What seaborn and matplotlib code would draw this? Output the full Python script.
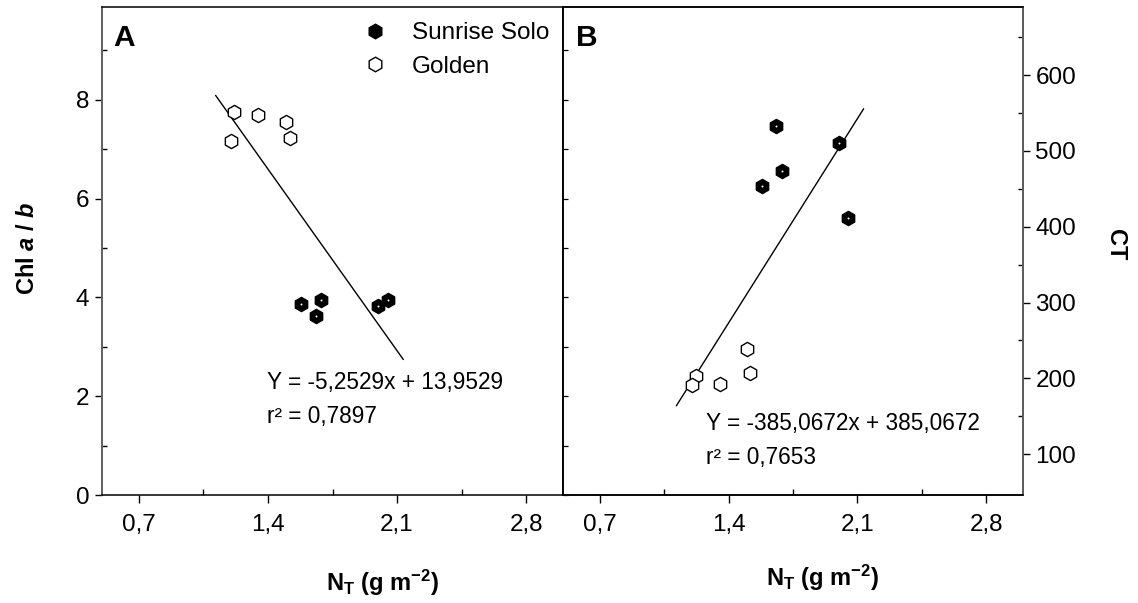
import numpy as np
import pandas as pd
import matplotlib
matplotlib.use("Agg")
import matplotlib.pyplot as plt
from matplotlib.lines import Line2D
from matplotlib.ticker import FixedLocator
import seaborn as sns

# ---------------- data ----------------
cultivars = ["Sunrise Solo", "Golden"]
# Panel A: N_T vs Chl a/b
sunrise_nt_a = [1.577, 1.688, 1.660, 1.995, 2.050]
sunrise_chl = [3.87, 3.94, 3.63, 3.83, 3.95]
golden_nt_a = [1.216, 1.346, 1.498, 1.197, 1.518]
golden_chl = [7.75, 7.69, 7.56, 7.17, 7.22]
# Panel B: N_T vs CT
sunrise_nt_b = [1.660, 2.000, 1.691, 1.579, 2.051]
sunrise_ct = [533, 511, 473, 454, 412]
golden_nt_b = [1.499, 1.518, 1.221, 1.351, 1.203]
golden_ct = [239, 207, 203, 192, 191]
# regression lines
fit_x = [1.116, 2.134]
fit_a = (-5.2529, 13.9529)
fit_b = (385.0672, -266.0)
eq_a = ["Y = -5,2529x + 13,9529", "r\u00b2 = 0,7897"]
eq_b = ["Y = -385,0672x + 385,0672", "r\u00b2 = 0,7653"]

x_ticks = [0.7, 1.4, 2.1, 2.8]
x_labels = ["0,7", "1,4", "2,1", "2,8"]
x_minor = [1.05, 1.75, 2.45]
ya_ticks = [0, 2, 4, 6, 8]
ya_minor = [1, 3, 5, 7, 9]
ct_ticks = [100, 200, 300, 400, 500, 600]
ct_minor = [150, 250, 350, 450, 550, 650]

dfA = pd.DataFrame({
    "nt": sunrise_nt_a + golden_nt_a,
    "val": sunrise_chl + golden_chl,
    "cv": [cultivars[0]] * 5 + [cultivars[1]] * 5,
})
dfB = pd.DataFrame({
    "nt": sunrise_nt_b + golden_nt_b,
    "val": sunrise_ct + golden_ct,
    "cv": [cultivars[0]] * 5 + [cultivars[1]] * 5,
})

# ---------------- style ----------------
sns.set_style("ticks")
plt.rcParams["font.family"] = ["Liberation Sans", "DejaVu Sans"]
plt.rcParams["mathtext.fontset"] = "custom"
plt.rcParams["mathtext.rm"] = "Liberation Sans:bold"
plt.rcParams["mathtext.bf"] = "Liberation Sans:bold"
plt.rcParams["mathtext.it"] = "Liberation Sans:italic:bold"
for k in ["text.color", "axes.labelcolor", "xtick.color", "ytick.color",
          "axes.edgecolor"]:
    plt.rcParams[k] = "black"

W, H = 1138, 603
fig = plt.figure(figsize=(W / 100, H / 100), dpi=100)

def fx(px):
    return px / W

def fy(py):
    return 1 - py / H

axA = fig.add_axes([fx(102), fy(495), fx(563) - fx(102), fy(7) - fy(495)])
axB = fig.add_axes([fx(563), fy(495), fx(1023) - fx(563), fy(7) - fy(495)])
axBt = axB.twinx()

TICK_FS = 17.5
MS = 105

def draw(ax, df):
    s = df[df.cv == cultivars[0]]
    g = df[df.cv == cultivars[1]]
    sns.scatterplot(data=s, x="nt", y="val", ax=ax, marker="h", s=MS,
                    color="black", edgecolor="black", linewidth=1.0, zorder=3,
                    legend=False)
    sns.scatterplot(data=s, x="nt", y="val", ax=ax, marker="o", s=2,
                    color="white", linewidth=0, zorder=4, legend=False)
    sns.scatterplot(data=g, x="nt", y="val", ax=ax, marker="h", s=MS,
                    facecolor="white", edgecolor="black", linewidth=1.0,
                    zorder=3, legend=False)

# Panel A
draw(axA, dfA)
fxa = np.array(fit_x)
sns.lineplot(x=fxa, y=fit_a[0] * fxa + fit_a[1], ax=axA, color="black",
             linewidth=1.0, zorder=2)
axA.set_xlim(0.5, 3.0)
axA.set_ylim(0, 9.88)
axA.yaxis.set_major_locator(FixedLocator(ya_ticks))
axA.yaxis.set_minor_locator(FixedLocator(ya_minor))
axA.set_yticklabels([str(v) for v in ya_ticks])
axA.tick_params(axis="y", which="both", left=True, right=False)

# Panel B
draw(axBt, dfB)
sns.lineplot(x=fxa, y=fit_b[0] * fxa + fit_b[1], ax=axBt, color="black",
             linewidth=1.0, zorder=2)
axB.set_xlim(0.5, 3.0)
axBt.set_xlim(0.5, 3.0)
axB.set_ylim(0, 9.88)
axBt.set_ylim(46, 690)
axB.yaxis.set_major_locator(FixedLocator(ya_ticks))
axB.yaxis.set_minor_locator(FixedLocator(ya_minor))
axB.tick_params(axis="y", which="both", left=True, right=False,
                labelleft=False, direction="in", length=3.5, width=0.9)
axBt.yaxis.set_major_locator(FixedLocator(ct_ticks))
axBt.yaxis.set_minor_locator(FixedLocator(ct_minor))
axBt.set_yticklabels([str(v) for v in ct_ticks])
axBt.tick_params(axis="y", which="major", right=True, direction="out",
                 length=5, width=1.0, labelsize=TICK_FS, pad=4)
axBt.tick_params(axis="y", which="minor", right=True, direction="in",
                 length=3.5, width=1.0)

for ax in (axA, axB):
    ax.xaxis.set_major_locator(FixedLocator(x_ticks))
    ax.xaxis.set_minor_locator(FixedLocator(x_minor))
    ax.set_xticklabels(x_labels)
    ax.tick_params(axis="x", which="major", direction="out", length=6,
                   width=1.0, labelsize=TICK_FS, pad=8, top=False)
    ax.tick_params(axis="x", which="minor", direction="in", length=4,
                   width=1.0, top=False)
    ax.set_xlabel("")
    ax.set_ylabel("")
axBt.set_xlabel("")
axBt.set_ylabel("")
axA.tick_params(axis="y", which="major", direction="out", length=5,
                width=1.0, labelsize=TICK_FS, pad=4)
axA.tick_params(axis="y", which="minor", direction="in", length=3.5, width=1.0)

for ax in (axA, axB, axBt):
    for sp in ax.spines.values():
        sp.set_visible(True)
        sp.set_color("black")
        sp.set_linewidth(1.1)
axA.spines["left"].set_color("#606060")
axA.spines["left"].set_linewidth(1.4)
axBt.spines["right"].set_color("#606060")
axBt.spines["right"].set_linewidth(1.4)

# equations
EQ_FS = 16.3
axA.text(1.393, 2.27, eq_a[0], fontsize=EQ_FS, va="center", ha="left")
axA.text(1.393, 1.58, eq_a[1], fontsize=EQ_FS, va="center", ha="left")
axBt.text(1.275, 139.7, eq_b[0], fontsize=EQ_FS, va="center", ha="left")
axBt.text(1.275, 96.1, eq_b[1], fontsize=EQ_FS, va="center", ha="left")

# panel letters
fig.text(fx(113), fy(38), "A", fontsize=21.5, fontweight="bold", va="center", ha="left")
fig.text(fx(576), fy(38), "B", fontsize=21.5, fontweight="bold", va="center", ha="left")

# legend
handles = [
    Line2D([], [], marker="h", linestyle="none", markersize=10.5,
           markerfacecolor="black", markeredgecolor="black"),
    Line2D([], [], marker="h", linestyle="none", markersize=10.5,
           markerfacecolor="white", markeredgecolor="black"),
]
leg = axA.legend(handles, cultivars, loc="upper left",
                 bbox_to_anchor=((363 - 102) / 461, (495 - 22) / 488),
                 frameon=False, fontsize=17.5, handlelength=1.0,
                 handletextpad=1.0, labelspacing=0.48, borderpad=0,
                 borderaxespad=0)

# axis labels
fig.text(fx(382), fy(583), r"N$_\mathregular{T}$ (g m$^{\mathregular{-2}}$)",
         fontsize=17, fontweight="bold", ha="center", va="center")
fig.text(fx(822), fy(578), r"N$_\mathregular{T}$ (g m$^{\mathregular{-2}}$)",
         fontsize=17, fontweight="bold", ha="center", va="center")
fig.text(fx(28), fy(248), r"Chl $a$ / $b$", fontsize=17, fontweight="bold",
         rotation=90, ha="center", va="center")
fig.text(fx(1115), fy(245), "CT", fontsize=17, fontweight="bold",
         rotation=270, ha="center", va="center")

fig.savefig("out.png", dpi=100)
